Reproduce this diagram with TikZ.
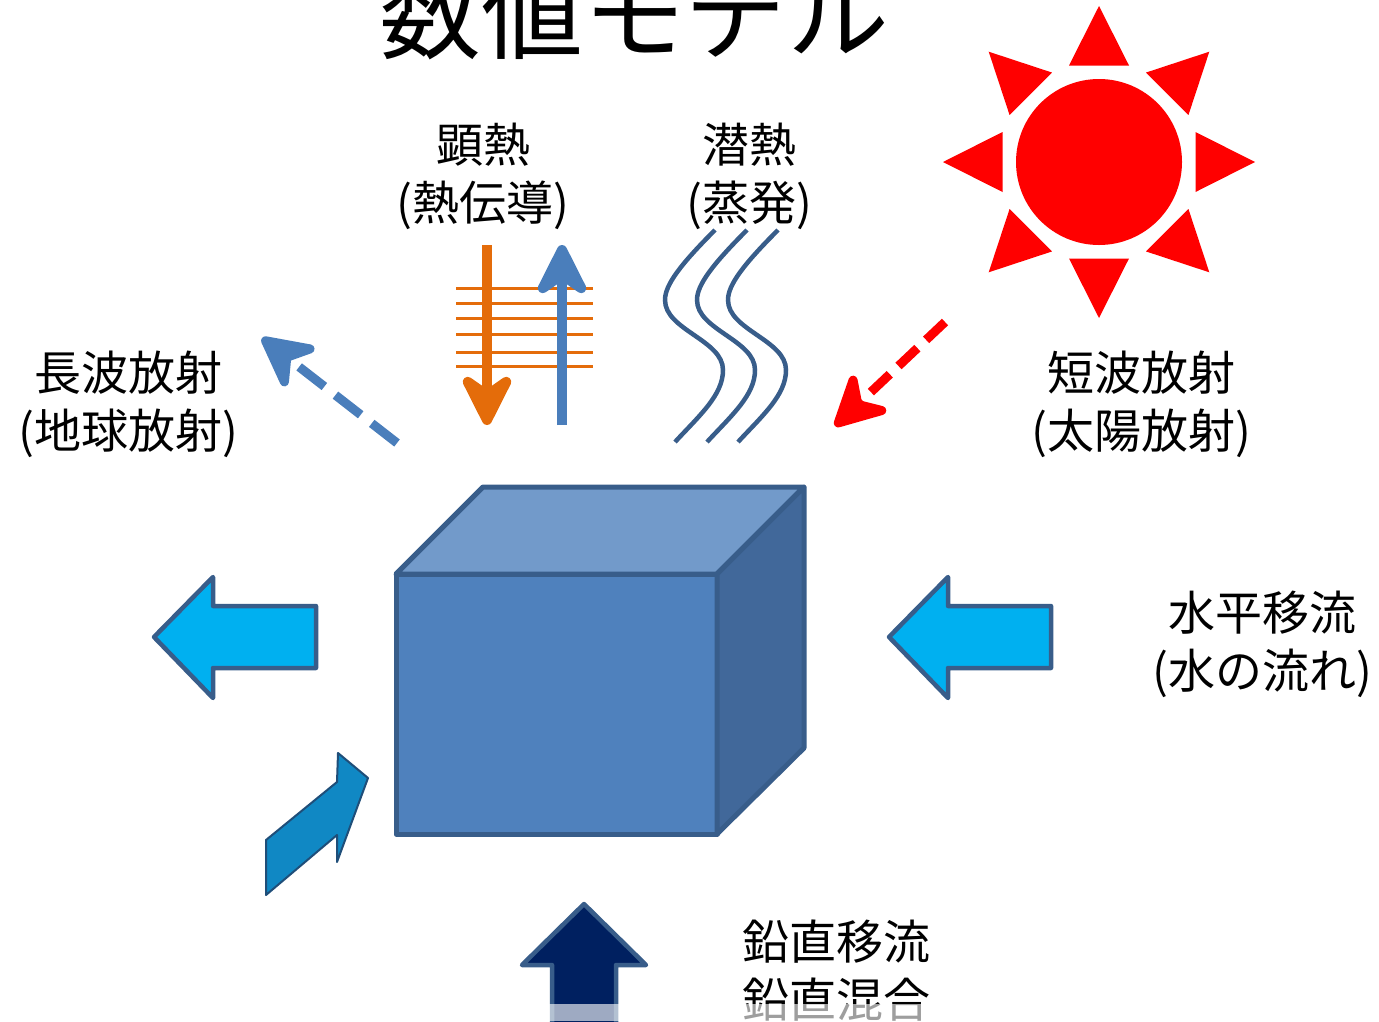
\documentclass[tikz,border=0pt]{standalone}
\usepackage{fontspec}
\setmainfont{Noto Sans CJK JP}
\usetikzlibrary{arrows.meta,positioning}
\definecolor{boxfront}{HTML}{4F81BD}
\definecolor{boxtop}{HTML}{729ACA}
\definecolor{boxside}{HTML}{41689A}
\definecolor{boxedge}{HTML}{385D8A}
\definecolor{flowcyan}{HTML}{00B0F0}
\definecolor{flownavy}{HTML}{002060}
\definecolor{mixblue}{HTML}{1088C4}
\definecolor{mixedge}{HTML}{1F4E79}
\definecolor{heatorange}{HTML}{E46C0A}
\definecolor{heatblue}{HTML}{4A7EBB}
\definecolor{sunred}{HTML}{FF0000}

\begin{document}
\begin{tikzpicture}[x=1pt, y=-1pt,
    caption/.style={font=\fontsize{47}{58}\selectfont, align=center, inner sep=0pt},
    face/.style={draw=boxedge, line width=5pt, line join=round},
    blockarrow/.style={draw=boxedge, line width=4.5pt, line join=round},
    heat/.style={line width=10pt, -{Stealth[length=64pt, width=64pt, inset=22pt, round]}},
    ray/.style={line width=9pt, -{Stealth[length=62pt, width=64pt, inset=20pt, round]}},
    vapour/.style={draw=boxedge, line width=4.5pt}
]
    \useasboundingbox (0,0) rectangle (1379,1021);
    \clip (0,0) rectangle (1379,1021);

    % Title
    \node[font=\fontsize{102}{102}\selectfont, anchor=base, inner sep=0pt] (title) at (634,51) {数値モデル};

    % Sun
    \coordinate (sun) at (1099,162);
    \fill[sunred] (sun) circle[radius=83];
    \foreach \a in {0,45,...,315}
        \fill[sunred, shift={(sun)}, rotate=\a] (156,0) -- (96.5,30) -- (96.5,-30) -- cycle;

    % Water box
    \node[face, fill=boxfront, minimum width=321pt, minimum height=260pt,
          inner sep=0pt, outer sep=0pt] (front) at (556.5,704) {};
    \filldraw[face, fill=boxtop] (front.north west) -- ++(87,-87) -- ++(321,0)
        -- (front.north east) -- cycle;
    \filldraw[face, fill=boxside] (front.north east) -- ++(87,-87) -- ++(0,261)
        -- (front.south east) -- cycle;

    % Labels
    \node[caption] (sensible)  at (483,176)  {顕熱\\(熱伝導)};
    \node[caption] (latent)    at (749,176)  {潜熱\\(蒸発)};
    \node[caption] (longwave)  at (128,404)  {長波放射\\(地球放射)};
    \node[caption] (shortwave) at (1141,404) {短波放射\\(太陽放射)};
    \node[caption] (advection) at (1262,644) {水平移流\\(水の流れ)};
    \node[caption] (vertical)  at (836,971)  {鉛直移流\\鉛直混合};

    % Sensible heat
    \foreach \y in {288,303,318,334,352,366}
        \draw[heatorange, line width=3pt] (456,\y) -- (593,\y);
    \coordinate (downtop) at (487,245);
    \coordinate (downtip) at (487,425);
    \coordinate (uptail)  at (562,425);
    \coordinate (uptip)   at (562,245);
    \draw[heat, heatorange] (downtop) -- (downtip);
    \draw[heat, heatblue] (uptail) -- (uptip);

    % Latent heat
    \foreach \dx in {0,32,63}
        \draw[vapour, xshift=\dx] (675,442) .. controls (700,415) and (723,395) .. (723,370)
            .. controls (723,340) and (665,330) .. (665,300)
            .. controls (665,285) and (680,265) .. (715,230);

    % Radiation
    \coordinate (lwtail) at (397,443);
    \coordinate (lwtip)  at (262,338);
    \coordinate (swtail) at (945,322);
    \coordinate (swtip)  at (835,426);
    \draw[ray, heatblue, dash pattern=on 32pt off 14pt] (lwtail) -- (lwtip);
    \draw[ray, sunred, dash pattern=on 26pt off 12pt] (swtail) -- (swtip);

    % Horizontal advection
    \foreach \tx in {154,889}
        \filldraw[blockarrow, fill=flowcyan, xshift=\tx-154] (154,637) -- (213,577) -- (213,606)
            -- (316,606) -- (316,668) -- (213,668) -- (213,698) -- cycle;

    % Mixing
    \filldraw[fill=mixblue, draw=mixedge, line width=2pt, line join=round]
        (266,895) -- (266,840) -- (337,782) -- (338,753) -- (368,778)
        -- (337,862) -- (337,835) -- cycle;

    % Vertical advection
    \filldraw[blockarrow, fill=flownavy] (584,904) -- (646,965) -- (616,965) -- (616,1040)
        -- (552,1040) -- (552,965) -- (522,965) -- cycle;

    \fill[white, opacity=0.62] (0,1004) rectangle (1379,1021);
\end{tikzpicture}
\end{document}
